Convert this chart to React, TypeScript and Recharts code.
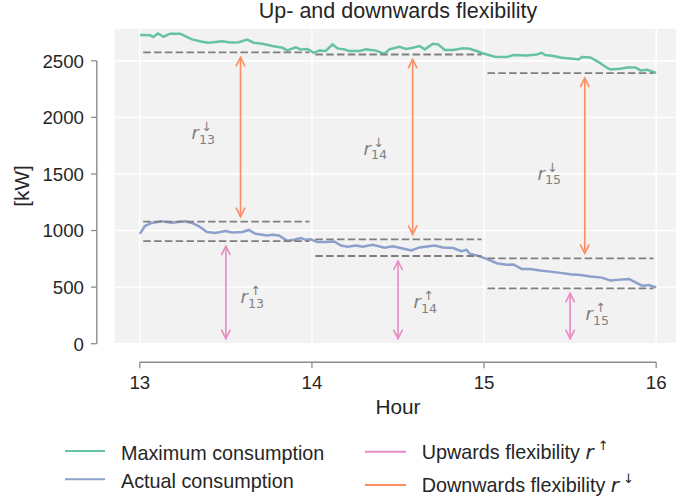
import React from 'react';
import {
  ComposedChart,
  Line,
  XAxis,
  YAxis,
  CartesianGrid,
  ReferenceLine,
  ReferenceDot,
} from 'recharts';

const maxMinutes = [
  0, 3.6, 4.7, 6.3, 8.3, 10.5, 14, 15.8, 18.2, 21.7, 24, 28.7, 31.6, 34.5,
  37.4, 39.7, 42.7, 46.2, 49.7, 51.4, 54.3, 56.1, 58.4, 60.7, 62.5, 64.8,
  67.2, 68.9, 71.3, 73, 76.5, 78.9, 80.6, 82.4, 85.3, 87, 90.5, 92.9, 95.2,
  97.5, 99.3, 102.2, 104, 106.3, 109.2, 112.7, 115, 117.4, 119.7, 123.8,
  127.9, 130.2, 134.9, 138.4, 140.1, 141.3, 144.2, 147.1, 150, 153, 154.1,
  157, 160, 162.3, 164, 167.5, 169.9, 172.8, 174.5, 176.9, 180,
];
const maxConsumption = [
  2728, 2725, 2710, 2742, 2713, 2740, 2740, 2719, 2689, 2669, 2660, 2672,
  2662, 2665, 2687, 2660, 2651, 2631, 2615, 2592, 2619, 2601, 2605, 2571,
  2592, 2587, 2645, 2610, 2601, 2587, 2587, 2601, 2596, 2590, 2562, 2601,
  2624, 2605, 2616, 2631, 2601, 2651, 2645, 2596, 2596, 2610, 2607, 2587,
  2565, 2536, 2533, 2551, 2548, 2556, 2571, 2551, 2542, 2527, 2521, 2512,
  2533, 2530, 2488, 2447, 2423, 2429, 2441, 2441, 2415, 2420, 2393,
];

const actualMinutes = [
  0, 1.8, 4.1, 7.7, 11.2, 13.5, 15.8, 18.2, 20.5, 23.4, 26.3, 29.8, 32.2,
  35.7, 38, 40.3, 44.4, 46.2, 48.5, 51.4, 53.8, 56.1, 57.8, 59.6, 61.9, 64.8,
  67.8, 70.1, 72.4, 75.4, 77.7, 81.2, 85.3, 88.2, 90.5, 94.6, 97.5, 102.8,
  105.7, 109.2, 112.1, 113.9, 115, 117.4, 120.9, 124.4, 127.9, 130.2, 133.1,
  136, 139.5, 143, 146.6, 150, 153.6, 157, 161.1, 164, 166.4, 170.5, 172.8,
  175.1, 177.5, 180,
];
const actualConsumption = [
  971, 1040, 1067, 1081, 1069, 1075, 1081, 1067, 1040, 987, 978, 996, 983,
  987, 1005, 971, 957, 962, 957, 909, 918, 933, 918, 922, 898, 898, 904, 868,
  856, 868, 856, 874, 848, 862, 848, 824, 851, 868, 851, 845, 817, 829, 795,
  780, 750, 711, 697, 700, 661, 661, 646, 637, 626, 613, 608, 593, 584, 558,
  564, 572, 543, 513, 518, 498,
];

// per-hour flexibility levels
const hours = [13, 14, 15];
const maxFloor = [2574, 2556, 2391];
const actualPeak = [1078, 922, 754];
const actualFloor = [907, 775, 489];
const upArrowX = [13.5, 14.5, 15.5];
const downArrowX = [13.585, 14.585, 15.585];
const downLabelAt = [
  [13.3, 1806],
  [14.3, 1670],
  [15.31, 1450],
];
const upLabelAt = [
  [13.585, 357],
  [14.59, 313],
  [15.59, 210],
];

const xTicks = [13, 14, 15, 16];
const yTicks = [0, 500, 1000, 1500, 2000, 2500];

const GREEN = '#66c2a5';
const BLUE = '#8da0cb';
const PINK = '#e78ac3';
const ORANGE = '#fc8d62';
const DASH = '#7f7f7f';
const AXIS = '#8c8c8c';
const TEXT = '#262626';
const FONT = '"Liberation Sans", Arial, sans-serif';
const MATH = '"DejaVu Sans", sans-serif';

const maxData = maxMinutes.map((m, i) => ({ t: 13 + m / 60, v: maxConsumption[i] }));
const actualData = actualMinutes.map((m, i) => ({ t: 13 + m / 60, v: actualConsumption[i] }));

const arrowShape = (color: string) => (props: any) => {
  const { x1, y1, y2 } = props;
  const top = Math.min(y1, y2) + 5;
  const bot = Math.max(y1, y2) - 5;
  const hl = 9;
  const hw = 4.5;
  return (
    <g stroke={color} strokeWidth={1.6} fill="none">
      <line x1={x1} y1={top} x2={x1} y2={bot} />
      <polyline points={`${x1 - hw},${top + hl} ${x1},${top} ${x1 + hw},${top + hl}`} />
      <polyline points={`${x1 - hw},${bot - hl} ${x1},${bot} ${x1 + hw},${bot - hl}`} />
    </g>
  );
};

// r with arrow superscript and hour subscript, as one text
const flexLabel = (hour: number, arrow: string) => (props: any) => {
  const { cx, cy } = props;
  return (
    <text x={cx} y={cy} fill="#808080" fontFamily={MATH}>
      <tspan fontSize={18} fontStyle="italic">r</tspan>
      <tspan x={cx + 7.5} y={cy + 4.7} fontSize={12.6}>{hour}</tspan>
      <tspan x={cx + 9.7} y={cy - 8} fontSize={12.6}>{arrow}</tspan>
    </text>
  );
};

const YTick = (props: any) => {
  const { x, y, payload } = props;
  return (
    <g>
      <line x1={x - 23} x2={x - 17.3} y1={y} y2={y} stroke={AXIS} strokeWidth={1.3} />
      <text x={x - 30} y={y + 6.8} textAnchor="end" fontSize={18.7} fontFamily={FONT} fill={TEXT}>
        {payload.value}
      </text>
    </g>
  );
};

const XTick = (props: any) => {
  const { x, y, payload } = props;
  return (
    <g>
      <line x1={x} x2={x} y1={y + 18.6} y2={y + 24.6} stroke={AXIS} strokeWidth={1.3} />
      <text x={x} y={y + 44.8} textAnchor="middle" fontSize={18.7} fontFamily={FONT} fill={TEXT}>
        {payload.value}
      </text>
    </g>
  );
};

export default function App() {
  const dashed = (key: string, h: number, level: number) => (
    <ReferenceLine
      key={key}
      segment={[{ x: h + 0.02, y: level }, { x: h + 0.985, y: level }]}
      stroke={DASH}
      strokeWidth={1.8}
      strokeDasharray="7.5 3.3"
      ifOverflow="visible"
    />
  );

  return (
    <div
      style={{
        position: 'fixed',
        left: 0,
        top: 0,
        width: 676,
        height: 501,
        overflow: 'hidden',
        background: '#fff',
      }}
    >
      <ComposedChart
        width={682}
        height={501}
        margin={{ top: 28, right: 0, bottom: 97.3, left: 0 }}
      >
        <CartesianGrid fill="#f2f2f2" stroke="#ffffff" strokeWidth={1.4} />
        <XAxis
          dataKey="t"
          type="number"
          domain={[12.85, 16.15]}
          allowDataOverflow
          ticks={xTicks}
          interval={0}
          height={60}
          axisLine={false}
          tickLine={false}
          tickSize={0}
          tickMargin={0}
          tick={<XTick />}
        />
        <YAxis
          type="number"
          domain={[0, 2790]}
          allowDataOverflow
          ticks={yTicks}
          interval={0}
          width={114}
          axisLine={false}
          tickLine={false}
          tickSize={0}
          tickMargin={0}
          tick={<YTick />}
        />
        <ReferenceLine
          segment={[{ x: 12.75, y: 0 }, { x: 12.75, y: 2500 }]}
          stroke={AXIS}
          strokeWidth={1.4}
          ifOverflow="visible"
        />
        <ReferenceLine
          segment={[{ x: 13, y: -164 }, { x: 16, y: -164 }]}
          stroke={AXIS}
          strokeWidth={1.4}
          ifOverflow="visible"
        />
        <Line
          data={maxData}
          dataKey="v"
          stroke={GREEN}
          strokeWidth={2.5}
          dot={false}
          isAnimationActive={false}
        />
        <Line
          data={actualData}
          dataKey="v"
          stroke={BLUE}
          strokeWidth={2.5}
          dot={false}
          isAnimationActive={false}
        />
        {hours.map((h, i) => dashed(`mf${h}`, h, maxFloor[i]))}
        {hours.map((h, i) => dashed(`ap${h}`, h, actualPeak[i]))}
        {hours.map((h, i) => dashed(`af${h}`, h, actualFloor[i]))}
        {hours.map((h, i) => (
          <ReferenceLine
            key={`up${h}`}
            segment={[{ x: upArrowX[i], y: 0 }, { x: upArrowX[i], y: actualFloor[i] }]}
            stroke={PINK}
            shape={arrowShape(PINK)}
            ifOverflow="visible"
          />
        ))}
        {hours.map((h, i) => (
          <ReferenceLine
            key={`down${h}`}
            segment={[{ x: downArrowX[i], y: actualPeak[i] }, { x: downArrowX[i], y: maxFloor[i] }]}
            stroke={ORANGE}
            shape={arrowShape(ORANGE)}
            ifOverflow="visible"
          />
        ))}
        {hours.map((h, i) => (
          <ReferenceDot
            key={`dl${h}`}
            x={downLabelAt[i][0]}
            y={downLabelAt[i][1]}
            r={1}
            ifOverflow="visible"
            shape={flexLabel(h, '\u2193')}
          />
        ))}
        {hours.map((h, i) => (
          <ReferenceDot
            key={`ul${h}`}
            x={upLabelAt[i][0]}
            y={upLabelAt[i][1]}
            r={1}
            ifOverflow="visible"
            shape={flexLabel(h, '\u2191')}
          />
        ))}
      </ComposedChart>
      <svg
        width={676}
        height={501}
        style={{ position: 'absolute', left: 0, top: 0, pointerEvents: 'none' }}
      >
        <text x={398} y={17.5} textAnchor="middle" fontSize={21.5} fontFamily={FONT} fill={TEXT}>
          Up- and downwards flexibility
        </text>
        <text x={398} y={413.5} textAnchor="middle" fontSize={20.8} fontFamily={FONT} fill={TEXT}>
          Hour
        </text>
        <text
          x={0}
          y={0}
          transform="translate(28.5,186) rotate(-90)"
          textAnchor="middle"
          fontSize={20.8}
          fontFamily={FONT}
          fill={TEXT}
        >
          [kW]
        </text>
        <g fontFamily={FONT} fontSize={19.8} fill={TEXT}>
          <line x1={65} x2={105} y1={451} y2={451} stroke={GREEN} strokeWidth={2} />
          <text x={121} y={460}>Maximum consumption</text>
          <line x1={65} x2={105} y1={479.3} y2={479.3} stroke={BLUE} strokeWidth={2} />
          <text x={121} y={487.5}>Actual consumption</text>
          <line x1={365} x2={406} y1={451.7} y2={451.7} stroke={PINK} strokeWidth={2} />
          <text x={421.7} y={459}>
            Upwards flexibility{' '}
            <tspan fontFamily={MATH} fontStyle="italic">r</tspan>
            <tspan fontFamily={MATH} fontSize={13} dx={4} dy={-9}>{'\u2191'}</tspan>
          </text>
          <line x1={365} x2={406} y1={485} y2={485} stroke={ORANGE} strokeWidth={2} />
          <text x={421.7} y={492}>
            Downwards flexibility{' '}
            <tspan fontFamily={MATH} fontStyle="italic">r</tspan>
            <tspan fontFamily={MATH} fontSize={13} dx={4} dy={-9}>{'\u2193'}</tspan>
          </text>
        </g>
      </svg>
    </div>
  );
}
